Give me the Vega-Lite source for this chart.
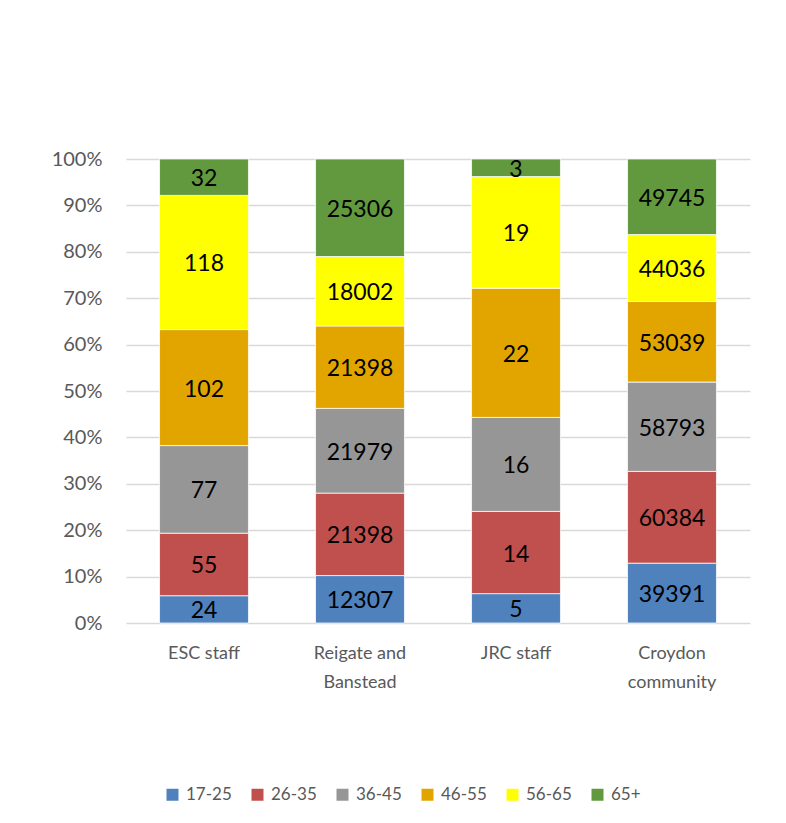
{
  "$schema": "https://vega.github.io/schema/vega-lite/v6.json",
  "width": 624,
  "height": 464,
  "autosize": {"type": "none"},
  "padding": {"left": 126, "top": 159, "right": 36, "bottom": 200},
  "background": "white",
  "config": {
    "view": {"stroke": null},
    "font": "Lato"
  },
  "data": {
    "values": [
      {"site": "ESC staff", "age": "17-25", "count": 24},
      {"site": "ESC staff", "age": "26-35", "count": 55},
      {"site": "ESC staff", "age": "36-45", "count": 77},
      {"site": "ESC staff", "age": "46-55", "count": 102},
      {"site": "ESC staff", "age": "56-65", "count": 118},
      {"site": "ESC staff", "age": "65+", "count": 32},
      {"site": "Reigate and Banstead", "age": "17-25", "count": 12307},
      {"site": "Reigate and Banstead", "age": "26-35", "count": 21398},
      {"site": "Reigate and Banstead", "age": "36-45", "count": 21979},
      {"site": "Reigate and Banstead", "age": "46-55", "count": 21398},
      {"site": "Reigate and Banstead", "age": "56-65", "count": 18002},
      {"site": "Reigate and Banstead", "age": "65+", "count": 25306},
      {"site": "JRC staff", "age": "17-25", "count": 5},
      {"site": "JRC staff", "age": "26-35", "count": 14},
      {"site": "JRC staff", "age": "36-45", "count": 16},
      {"site": "JRC staff", "age": "46-55", "count": 22},
      {"site": "JRC staff", "age": "56-65", "count": 19},
      {"site": "JRC staff", "age": "65+", "count": 3},
      {"site": "Croydon community", "age": "17-25", "count": 39391},
      {"site": "Croydon community", "age": "26-35", "count": 60384},
      {"site": "Croydon community", "age": "36-45", "count": 58793},
      {"site": "Croydon community", "age": "46-55", "count": 53039},
      {"site": "Croydon community", "age": "56-65", "count": 44036},
      {"site": "Croydon community", "age": "65+", "count": 49745}
    ]
  },
  "transform": [
    {
      "stack": "count",
      "groupby": ["site"],
      "sort": [{"field": "age", "order": "ascending"}],
      "offset": "normalize",
      "as": ["y0", "y1"]
    },
    {"calculate": "(datum.y0 + datum.y1) / 2", "as": "ymid"}
  ],
  "encoding": {
    "x": {
      "field": "site",
      "type": "nominal",
      "sort": ["ESC staff", "Reigate and Banstead", "JRC staff", "Croydon community"],
      "scale": {"paddingInner": 0.43, "paddingOuter": 0.215},
      "axis": {
        "title": null,
        "labelAngle": 0,
        "ticks": false,
        "domain": false,
        "labelFontSize": 18,
        "labelColor": "#595959",
        "labelPadding": 21,
        "labelLineHeight": 29,
        "labelExpr": "datum.value == 'Reigate and Banstead' ? ['Reigate and', 'Banstead'] : datum.value == 'Croydon community' ? ['Croydon', 'community'] : datum.value"
      }
    }
  },
  "layer": [
    {
      "mark": {"type": "bar", "stroke": "white", "strokeWidth": 0.75},
      "encoding": {
        "y": {
          "field": "y1",
          "type": "quantitative",
          "scale": {"domain": [0, 1]},
          "axis": {
            "title": null,
            "values": [0, 0.1, 0.2, 0.3, 0.4, 0.5, 0.6, 0.7, 0.8, 0.9, 1],
            "format": ".0%",
            "ticks": false,
            "domain": false,
            "grid": true,
            "gridColor": "#D9D9D9",
            "gridWidth": 1.5,
            "labelFontSize": 20,
            "labelColor": "#595959",
            "labelPadding": 24
          }
        },
        "y2": {"field": "y0"},
        "color": {
          "field": "age",
          "type": "nominal",
          "scale": {
            "domain": ["17-25", "26-35", "36-45", "46-55", "56-65", "65+"],
            "range": ["#4F81BD", "#C0504D", "#969696", "#E2A500", "#FFFF00", "#62993E"]
          },
          "legend": {
            "title": null,
            "orient": "none",
            "direction": "horizontal",
            "legendX": 38,
            "legendY": 627,
            "symbolType": "square",
            "symbolSize": 144,
            "symbolStrokeWidth": 0,
            "labelFontSize": 17,
            "labelColor": "#595959",
            "labelOffset": 5,
            "columnPadding": 17
          }
        }
      }
    },
    {
      "mark": {"type": "text", "fontSize": 23, "color": "black", "dy": 2},
      "encoding": {
        "y": {"field": "ymid", "type": "quantitative"},
        "text": {"field": "count", "type": "quantitative", "format": "d"}
      }
    }
  ]
}
